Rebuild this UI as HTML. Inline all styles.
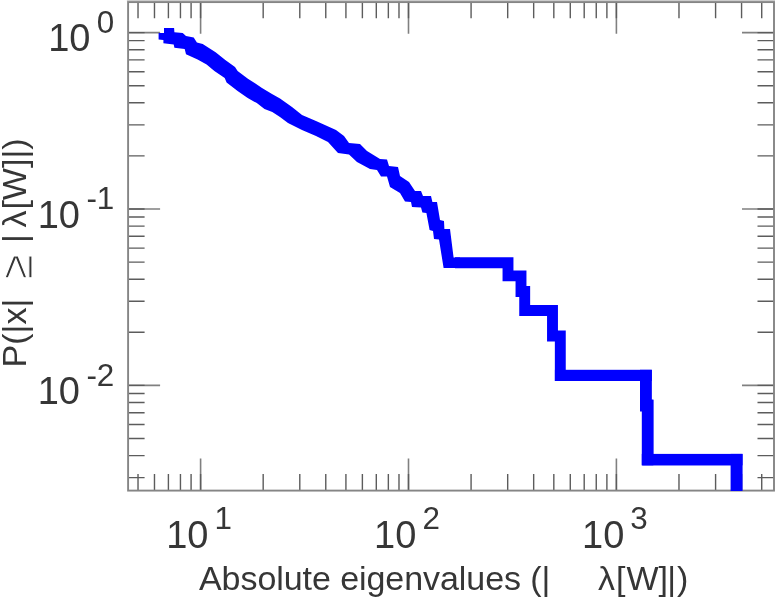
<!DOCTYPE html>
<html><head><meta charset="utf-8"><title>plot</title><style>html,body{margin:0;padding:0;background:#fff}body{width:775px;height:600px;overflow:hidden}</style></head><body>
<svg width="775" height="600" viewBox="0 0 775 600" style="display:block">
<rect width="775" height="600" fill="#fff"/>
<path d="M200.60 1.8v32M200.60 490.6v-32M408.50 1.8v32M408.50 490.6v-32M616.40 1.8v32M616.40 490.6v-32M128.1 385.40h32M774.0 385.40h-32M128.1 209.00h32M774.0 209.00h-32M128.1 32.60h32M774.0 32.60h-32" stroke="#808080" stroke-width="1.6" fill="none"/>
<path d="M138.02 1.8v16.5M138.02 490.6v-16.5M154.48 1.8v16.5M154.48 490.6v-16.5M168.40 1.8v16.5M168.40 490.6v-16.5M180.45 1.8v16.5M180.45 490.6v-16.5M191.09 1.8v16.5M191.09 490.6v-16.5M200.60 1.8v16.5M200.60 490.6v-16.5M263.18 1.8v16.5M263.18 490.6v-16.5M299.79 1.8v16.5M299.79 490.6v-16.5M325.77 1.8v16.5M325.77 490.6v-16.5M345.92 1.8v16.5M345.92 490.6v-16.5M362.38 1.8v16.5M362.38 490.6v-16.5M376.30 1.8v16.5M376.30 490.6v-16.5M388.35 1.8v16.5M388.35 490.6v-16.5M398.99 1.8v16.5M398.99 490.6v-16.5M408.50 1.8v16.5M408.50 490.6v-16.5M471.08 1.8v16.5M471.08 490.6v-16.5M507.69 1.8v16.5M507.69 490.6v-16.5M533.67 1.8v16.5M533.67 490.6v-16.5M553.82 1.8v16.5M553.82 490.6v-16.5M570.28 1.8v16.5M570.28 490.6v-16.5M584.20 1.8v16.5M584.20 490.6v-16.5M596.25 1.8v16.5M596.25 490.6v-16.5M606.89 1.8v16.5M606.89 490.6v-16.5M616.40 1.8v16.5M616.40 490.6v-16.5M678.98 1.8v16.5M678.98 490.6v-16.5M715.59 1.8v16.5M715.59 490.6v-16.5M741.57 1.8v16.5M741.57 490.6v-16.5M761.72 1.8v16.5M761.72 490.6v-16.5M128.1 477.64h16.5M774.0 477.64h-16.5M128.1 455.60h16.5M774.0 455.60h-16.5M128.1 438.50h16.5M774.0 438.50h-16.5M128.1 424.53h16.5M774.0 424.53h-16.5M128.1 412.72h16.5M774.0 412.72h-16.5M128.1 402.49h16.5M774.0 402.49h-16.5M128.1 393.47h16.5M774.0 393.47h-16.5M128.1 385.40h16.5M774.0 385.40h-16.5M128.1 332.30h16.5M774.0 332.30h-16.5M128.1 301.24h16.5M774.0 301.24h-16.5M128.1 279.20h16.5M774.0 279.20h-16.5M128.1 262.10h16.5M774.0 262.10h-16.5M128.1 248.13h16.5M774.0 248.13h-16.5M128.1 236.32h16.5M774.0 236.32h-16.5M128.1 226.09h16.5M774.0 226.09h-16.5M128.1 217.07h16.5M774.0 217.07h-16.5M128.1 209.00h16.5M774.0 209.00h-16.5M128.1 155.90h16.5M774.0 155.90h-16.5M128.1 124.84h16.5M774.0 124.84h-16.5M128.1 102.80h16.5M774.0 102.80h-16.5M128.1 85.70h16.5M774.0 85.70h-16.5M128.1 71.73h16.5M774.0 71.73h-16.5M128.1 59.92h16.5M774.0 59.92h-16.5M128.1 49.69h16.5M774.0 49.69h-16.5M128.1 40.67h16.5M774.0 40.67h-16.5M128.1 32.60h16.5M774.0 32.60h-16.5" stroke="#5c5c5c" stroke-width="1.4" fill="none"/>
<rect x="126.89999999999999" y="0" width="648.1" height="1.6" fill="#cdcdcd"/>
<rect x="128.1" y="2.1" width="645.9" height="488.5" fill="none" stroke="#858585" stroke-width="1.9"/>
<clipPath id="c"><rect x="128.1" y="1.8" width="645.9" height="489.1"/></clipPath>
<g clip-path="url(#c)"><g fill="#0000ff" stroke="none"><polygon points="158.6,32.9 164.0,33.0 164.0,27.9 174.1,27.9 174.4,32.3 182.7,32.9 186.0,36.1 193.7,37.4 196.9,42.6 202.7,43.9 215.6,52.3 225.3,60.0 235.0,67.1 237.6,71.0 247.9,78.7 255.0,83.2 262.0,88.0 272.0,94.0 280.0,98.5 292.0,107.0 302.0,115.0 316.0,121.0 336.0,130.0 344.0,136.0 349.0,143.0 360.0,144.0 367.0,151.0 380.0,159.0 387.0,159.4 389.0,166.0 398.0,167.0 400.0,176.0 409.0,182.0 415.0,191.0 421.0,191.0 423.0,196.0 431.0,196.0 432.4,202.0 437.0,202.0 440.0,220.0 444.0,221.0 444.4,229.0 450.0,229.0 453.6,257.6 460.0,257.6 460.0,268.0 443.6,268.0 439.0,239.4 434.0,239.0 433.0,231.0 429.6,230.0 426.4,213.0 422.4,212.4 421.0,207.4 412.0,207.0 411.0,202.0 405.0,201.4 400.0,193.0 390.0,187.0 387.0,176.4 381.0,176.4 377.0,170.0 370.0,169.0 357.0,162.0 349.0,154.4 338.0,153.0 328.0,142.0 316.0,136.0 302.0,130.0 288.0,123.0 280.0,117.0 272.3,112.1 264.5,109.0 256.8,103.1 247.7,97.9 237.6,91.0 226.6,82.6 224.7,78.1 214.4,71.0 206.6,64.5 197.6,59.4 186.0,54.2 184.7,49.0 174.4,47.7 173.7,44.5 163.4,43.2 163.4,40.0 158.6,39.4"/></g>
<polyline points="455.0,262.7 508.0,262.7 508.0,275.9 521.0,275.9 521.0,291.5 524.7,291.5 524.7,310.5 552.5,310.5 552.5,336.0 560.3,336.0 560.3,375.5 645.8,375.5 645.8,405.0 648.0,405.0 648.0,459.7 736.7,459.7 736.7,490.6" fill="none" stroke="#0000ff" stroke-width="10.9" stroke-linejoin="miter" stroke-linecap="butt"/>
<rect x="554.9" y="369.8" width="96.9" height="11.2" fill="#0000ff"/>
<rect x="640.0" y="369.8" width="11.8" height="41.7" fill="#0000ff"/>
<rect x="641.8" y="400.0" width="11.5" height="65.3" fill="#0000ff"/>
<rect x="641.8" y="453.9" width="100.7" height="11.4" fill="#0000ff"/>
<rect x="730.6" y="453.9" width="11.9" height="38.1" fill="#0000ff"/>
</g>
<g font-family="'Liberation Sans', sans-serif" fill="#363636" style="font-kerning:none">
<text x="166.20" y="547.60" text-anchor="start" font-size="38.0">10<tspan font-size="31.4" dx="6.0" dy="-18.3">1</tspan></text>
<text x="374.10" y="547.60" text-anchor="start" font-size="38.0">10<tspan font-size="31.4" dx="6.0" dy="-18.3">2</tspan></text>
<text x="582.00" y="547.60" text-anchor="start" font-size="38.0">10<tspan font-size="31.4" dx="6.0" dy="-18.3">3</tspan></text>
<text x="114.30" y="51.30" text-anchor="end" font-size="38.0">10<tspan font-size="31.4" dx="6.4" dy="-18.3">0</tspan></text>
<text x="114.30" y="227.70" text-anchor="end" font-size="38.0">10<tspan font-size="31.4" dx="6.4" dy="-18.3">-1</tspan></text>
<text x="114.30" y="404.10" text-anchor="end" font-size="38.0">10<tspan font-size="31.4" dx="6.4" dy="-18.3">-2</tspan></text>
<text x="199" y="590.3" font-size="34" textLength="351.4" lengthAdjust="spacing">Absolute eigenvalues (|</text>
<text x="598 616 626.5 658.5 667.2 677" y="590.3" font-size="34">λ[W]|)</text>
<g transform="translate(26.3,367.4) rotate(-90)" font-size="34"><text x="0" y="0">P(|x|</text><text x="88.3" y="5.5" font-size="45" stroke="#fff" stroke-width="1.1">≥</text><text x="124.5" y="0">|</text><text x="139.8" y="0">λ</text><text x="157.8" y="0">[W]|)</text></g>
</g>
</svg>
</body></html>
